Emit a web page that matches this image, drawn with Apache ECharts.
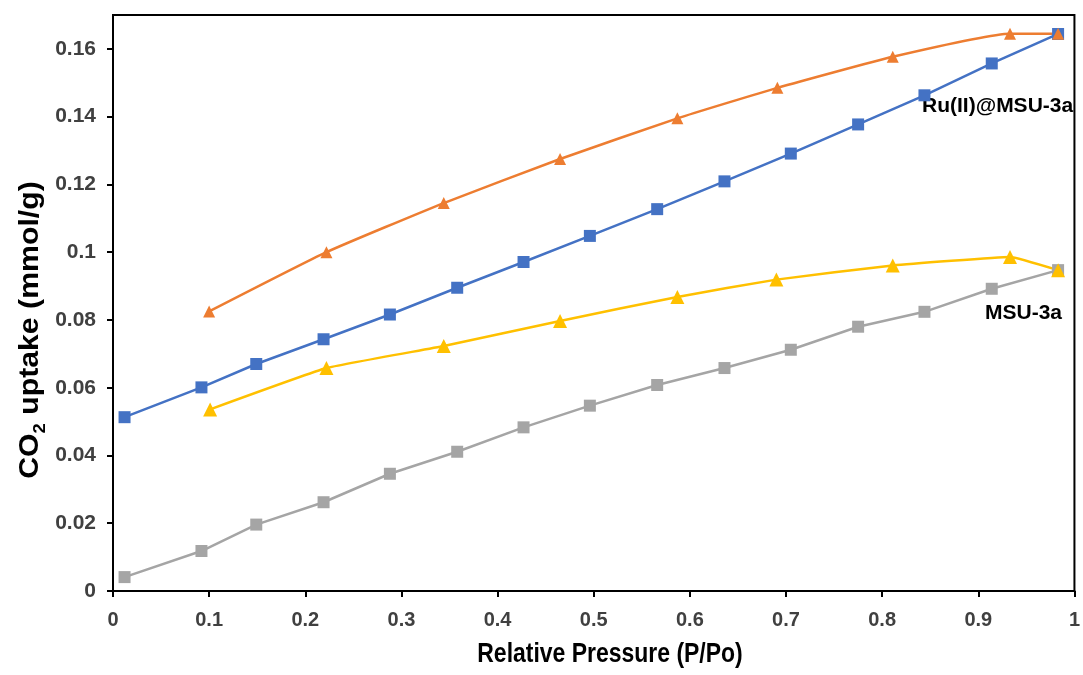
<!DOCTYPE html>
<html>
<head>
<meta charset="utf-8">
<script src="https://cdn.jsdelivr.net/npm/echarts@6/dist/echarts.min.js"></script>
<style>
  html, body { margin: 0; padding: 0; background: #fff; }
  #container { width: 1083px; height: 675px; }
</style>
</head>
<body>
<div id="container"></div>
<script>
// relative pressure points for each set
var pBlue = [0.012, 0.092, 0.149, 0.219, 0.288, 0.358, 0.427, 0.496, 0.566, 0.636, 0.705, 0.775, 0.844, 0.914, 0.983];
var uBlue = [0.0513, 0.0601, 0.0670, 0.0743, 0.0816, 0.0895, 0.0971, 0.1048, 0.1127, 0.1209, 0.1291, 0.1377, 0.1463, 0.1557, 0.1644];

var pOrange = [0.100, 0.222, 0.344, 0.465, 0.587, 0.691, 0.811, 0.933, 0.983];
var uOrange = [0.0825, 0.1000, 0.1145, 0.1275, 0.1395, 0.1485, 0.1577, 0.1645, 0.1645];

var pGray = [0.012, 0.092, 0.149, 0.219, 0.288, 0.358, 0.427, 0.496, 0.566, 0.636, 0.705, 0.775, 0.844, 0.914, 0.983];
var uGray = [0.0041, 0.0118, 0.0196, 0.0262, 0.0346, 0.0411, 0.0483, 0.0547, 0.0608, 0.0658, 0.0712, 0.0780, 0.0824, 0.0892, 0.0947];

var pYellow = [0.101, 0.222, 0.344, 0.465, 0.587, 0.690, 0.811, 0.933, 0.983];
var uYellow = [0.0536, 0.0658, 0.0723, 0.0797, 0.0868, 0.0919, 0.0961, 0.0986, 0.0947];

function pairs(xs, ys) {
    var out = [];
    for (var i = 0; i < xs.length; i++) out.push([xs[i], ys[i]]);
    return out;
}

var myChart = echarts.init(document.getElementById('container'));
var font = '"Liberation Sans", Arial, sans-serif';

var option = {
    animation: false,
    backgroundColor: '#fff',
    grid: {
        left: 113, right: 8, top: 15, bottom: 84,
        show: true, borderColor: '#000', borderWidth: 2
    },
    xAxis: {
        type: 'value',
        min: 0, max: 1, interval: 0.1,
        axisLine: { lineStyle: { color: '#000', width: 2 } },
        axisTick: { show: true, inside: false, length: 6, lineStyle: { color: '#000', width: 2 } },
        axisLabel: {
            fontFamily: font, fontWeight: 'bold', fontSize: 20, color: '#404040', margin: 19,
            formatter: function (v) { return String(+v.toFixed(1)); }
        },
        splitLine: { show: false }
    },
    yAxis: {
        type: 'value',
        min: 0, max: 0.17, interval: 0.02,
        axisLine: { show: true, lineStyle: { color: '#000', width: 2 } },
        axisTick: { show: true, inside: false, length: 6, lineStyle: { color: '#000', width: 2 } },
        axisLabel: {
            fontFamily: font, fontWeight: 'bold', fontSize: 21, color: '#404040', margin: 17,
            showMaxLabel: false,
            formatter: function (v) { return String(+v.toFixed(2)); }
        },
        splitLine: { show: false }
    },
    series: [
        {
            name: 'Ru(II)@MSU-3a squares', type: 'line', data: pairs(pBlue, uBlue),
            symbol: 'rect', symbolSize: 12,
            itemStyle: { color: '#4472C4' }, lineStyle: { color: '#4472C4', width: 2.5 }
        },
        {
            name: 'Ru(II)@MSU-3a triangles', type: 'line', data: pairs(pOrange, uOrange),
            symbol: 'triangle', symbolSize: 12, smooth: 0.15,
            itemStyle: { color: '#ED7D31' }, lineStyle: { color: '#ED7D31', width: 2.5 }
        },
        {
            name: 'MSU-3a squares', type: 'line', data: pairs(pGray, uGray),
            symbol: 'rect', symbolSize: 12,
            itemStyle: { color: '#A5A5A5' }, lineStyle: { color: '#A5A5A5', width: 2.5 }
        },
        {
            name: 'MSU-3a triangles', type: 'line', data: pairs(pYellow, uYellow),
            symbol: 'triangle', symbolSize: 14, smooth: 0.1,
            itemStyle: { color: '#FFC000' }, lineStyle: { color: '#FFC000', width: 2.5 }
        }
    ],
    graphic: [
        // axis titles
        { type: 'text', x: 610, y: 654, scaleX: 0.82,
          style: { text: 'Relative Pressure (P/Po)', font: 'bold 28px ' + font, fill: '#000',
                   align: 'center', verticalAlign: 'middle' } },
        { type: 'text', x: 28, y: 330, rotation: Math.PI / 2, scaleX: 1.08,
          style: {
              text: '{a|CO}{b|2}{a| uptake (mmol/g)}',
              align: 'center', verticalAlign: 'middle',
              rich: {
                  a: { font: 'bold 28px ' + font, fill: '#000', lineHeight: 32, verticalAlign: 'bottom' },
                  b: { font: 'bold 17px ' + font, fill: '#000', lineHeight: 32, verticalAlign: 'bottom', padding: [0, 0, -5, 0] }
              }
          } },
        // series labels
        { type: 'text', left: 922, top: 96,
          style: { text: 'Ru(II)@MSU-3a', font: 'bold 21px ' + font, fill: '#000' } },
        { type: 'text', left: 985, top: 303,
          style: { text: 'MSU-3a', font: 'bold 21px ' + font, fill: '#000' } }
    ]
};

myChart.setOption(option);
</script>
</body>
</html>
